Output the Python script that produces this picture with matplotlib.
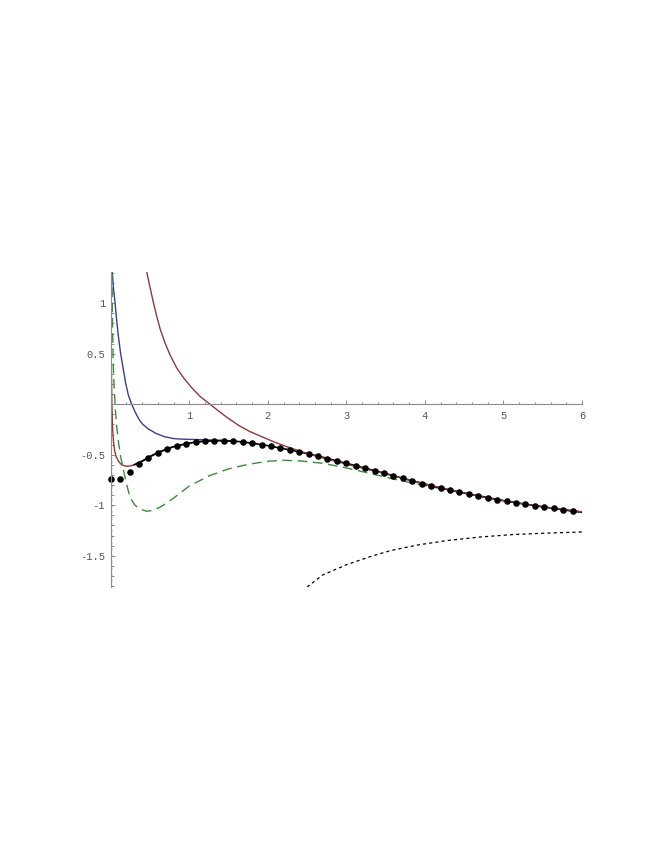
import numpy as np
import matplotlib.pyplot as plt
from matplotlib.ticker import MultipleLocator, FixedLocator

# ------------------------------------------------------------
# data
# ------------------------------------------------------------
dots_x = [round(0.12 * i, 2) for i in range(50)]
dots_y = [-0.74, -0.745, -0.67, -0.59, -0.53, -0.48, -0.44, -0.41, -0.39, -0.375,
          -0.365, -0.36, -0.36, -0.365, -0.375, -0.385, -0.40, -0.415, -0.43, -0.45,
          -0.47, -0.495, -0.515, -0.54, -0.56, -0.585, -0.61, -0.635, -0.66, -0.685,
          -0.71, -0.735, -0.76, -0.785, -0.81, -0.83, -0.85, -0.87, -0.89, -0.91,
          -0.93, -0.945, -0.96, -0.975, -0.99, -1.005, -1.02, -1.03, -1.045, -1.055]

fit_x = [0.3, 0.4, 0.5, 0.6, 0.8, 1.0, 1.2, 1.4, 1.6, 1.8, 2.0, 2.3, 2.6, 3.0,
         3.4, 3.8, 4.2, 4.6, 5.0, 5.4, 5.8, 6.0]
fit_y = [-0.6, -0.565, -0.52, -0.48, -0.42, -0.385, -0.365, -0.36, -0.367, -0.385,
         -0.41, -0.455, -0.505, -0.585, -0.665, -0.75, -0.83, -0.895, -0.955,
         -1.005, -1.05, -1.07]

blue_x = [0.02, 0.035, 0.055, 0.075, 0.097, 0.125, 0.16, 0.19, 0.225, 0.267, 0.31,
          0.36, 0.41, 0.48, 0.58, 0.68, 0.8, 0.9, 1.01, 1.12, 1.22, 1.32, 1.44, 1.56]
blue_y = [1.31, 1.15, 1.01, 0.84, 0.68, 0.51, 0.35, 0.21, 0.09, 0.0, -0.075,
          -0.15, -0.2, -0.245, -0.29, -0.32, -0.34, -0.345, -0.348, -0.35, -0.352,
          -0.356, -0.36, -0.365]

brownA_x = [0.459, 0.5, 0.543, 0.585, 0.628, 0.69, 0.755, 0.84, 0.925, 1.03, 1.14,
            1.265, 1.37, 1.48, 1.62, 1.77, 1.92, 2.07, 2.24, 2.41, 2.6, 2.8, 3.0,
            3.2, 3.4, 3.6, 3.8, 4.0, 4.4, 4.8, 5.2, 5.6, 6.0]
brownA_y = [1.31, 1.16, 1.01, 0.875, 0.75, 0.61, 0.49, 0.36, 0.265, 0.165, 0.076,
            0.0, -0.065, -0.13, -0.205, -0.27, -0.32, -0.37, -0.42, -0.465, -0.51,
            -0.552, -0.593, -0.632, -0.67, -0.71, -0.75, -0.79, -0.862, -0.93,
            -0.98, -1.025, -1.065]

brownB_x = [0.002, 0.004, 0.008, 0.015, 0.025, 0.035, 0.05, 0.07, 0.1, 0.14, 0.2,
            0.26, 0.32, 0.4, 0.5, 0.6, 0.72, 0.84, 0.96, 1.1, 1.3, 1.5]
brownB_y = [1.31, 0.9, 0.4, 0.0, -0.25, -0.37, -0.46, -0.52, -0.565, -0.6, -0.615,
            -0.61, -0.59, -0.56, -0.515, -0.475, -0.44, -0.41, -0.39, -0.37, -0.36,
            -0.36]

green_x = [0.015, 0.02, 0.025, 0.032, 0.045, 0.06, 0.076, 0.1, 0.127, 0.155, 0.18,
           0.215, 0.25, 0.31, 0.38, 0.46, 0.55, 0.65, 0.8, 1.0, 1.25, 1.5, 1.75,
           2.0, 2.2, 2.4, 2.7, 3.0, 3.3, 3.6, 3.9, 4.2, 4.6, 5.0, 5.5, 6.0]
green_y = [1.31, 1.0, 0.7, 0.4, 0.15, -0.06, -0.22, -0.38, -0.52, -0.62, -0.72,
           -0.83, -0.93, -1.0, -1.04, -1.06, -1.05, -1.01, -0.93, -0.81, -0.71,
           -0.64, -0.595, -0.565, -0.555, -0.56, -0.585, -0.63, -0.685, -0.74,
           -0.79, -0.835, -0.895, -0.955, -1.015, -1.07]

asym_x = [2.5, 2.7, 3.0, 3.3, 3.56, 3.9, 4.28, 4.7, 5.13, 5.6, 6.0]
asym_y = [-1.81, -1.69, -1.59, -1.51, -1.45, -1.395, -1.35, -1.315, -1.29, -1.275, -1.265]

branch_x = [0.004, 0.004]
branch_y = [-0.55, -1.81]

xticks = [1, 2, 3, 4, 5, 6]
yticks = [-1.5, -1, -0.5, 0.5, 1]
ytick_labels = ["-1.5", "-1", "-0.5", "0.5", "1"]

# ------------------------------------------------------------
# figure
# ------------------------------------------------------------
W, H = 664, 860
fig = plt.figure(figsize=(W / 100, H / 100), dpi=100)
ax = fig.add_axes([110.7 / W, 1 - 587 / H, (582 - 110.7) / W, (587 - 272) / H])
ax.set_xlim(0, 6)
ax.set_ylim(-1.81, 1.31)

brown = "#8e3a3a"
blue = "#3d3d8f"
green = "#3c8a3c"

ax.plot(blue_x, blue_y, color=blue, lw=1.0)
ax.plot(green_x, green_y, color=green, lw=1.0, dashes=(7, 4))
ax.plot(brownB_x, brownB_y, color=brown, lw=1.0)
ax.plot(fit_x, fit_y, color="black", lw=1.2)
ax.plot(brownA_x, brownA_y, color=brown, lw=1.0)
ax.plot(asym_x, asym_y, color="black", lw=0.9, dashes=(2.5, 2.5))
ax.plot(branch_x, branch_y, color="black", lw=0.9, dashes=(2.5, 2.5))
ax.plot(dots_x, dots_y, "o", color="black", ms=3.7, clip_on=False)

# Mathematica-style axes crossing at the origin
for s in ["top", "right"]:
    ax.spines[s].set_visible(False)
ax.spines["left"].set_position(("data", 0))
ax.spines["bottom"].set_position(("data", 0))
for s in ["left", "bottom"]:
    ax.spines[s].set_color("#8c8c8c")
    ax.spines[s].set_linewidth(0.8)

ax.xaxis.set_major_locator(FixedLocator(xticks))
ax.xaxis.set_minor_locator(MultipleLocator(0.2))
ax.yaxis.set_major_locator(FixedLocator(yticks))
ax.yaxis.set_minor_locator(MultipleLocator(0.1))
ax.set_xticklabels([str(t) for t in xticks])
ax.set_yticklabels(ytick_labels)

ax.tick_params(which="both", direction="in", color="#8c8c8c", width=0.7,
               labelsize=7.5, labelcolor="#555555")
ax.tick_params(which="major", length=3)
ax.tick_params(which="minor", length=1.8)
ax.tick_params(axis="x", pad=5)
ax.tick_params(axis="y", pad=4)
for lab in ax.get_xticklabels() + ax.get_yticklabels():
    lab.set_family("Liberation Mono")

fig.savefig("out.png", dpi=100)
